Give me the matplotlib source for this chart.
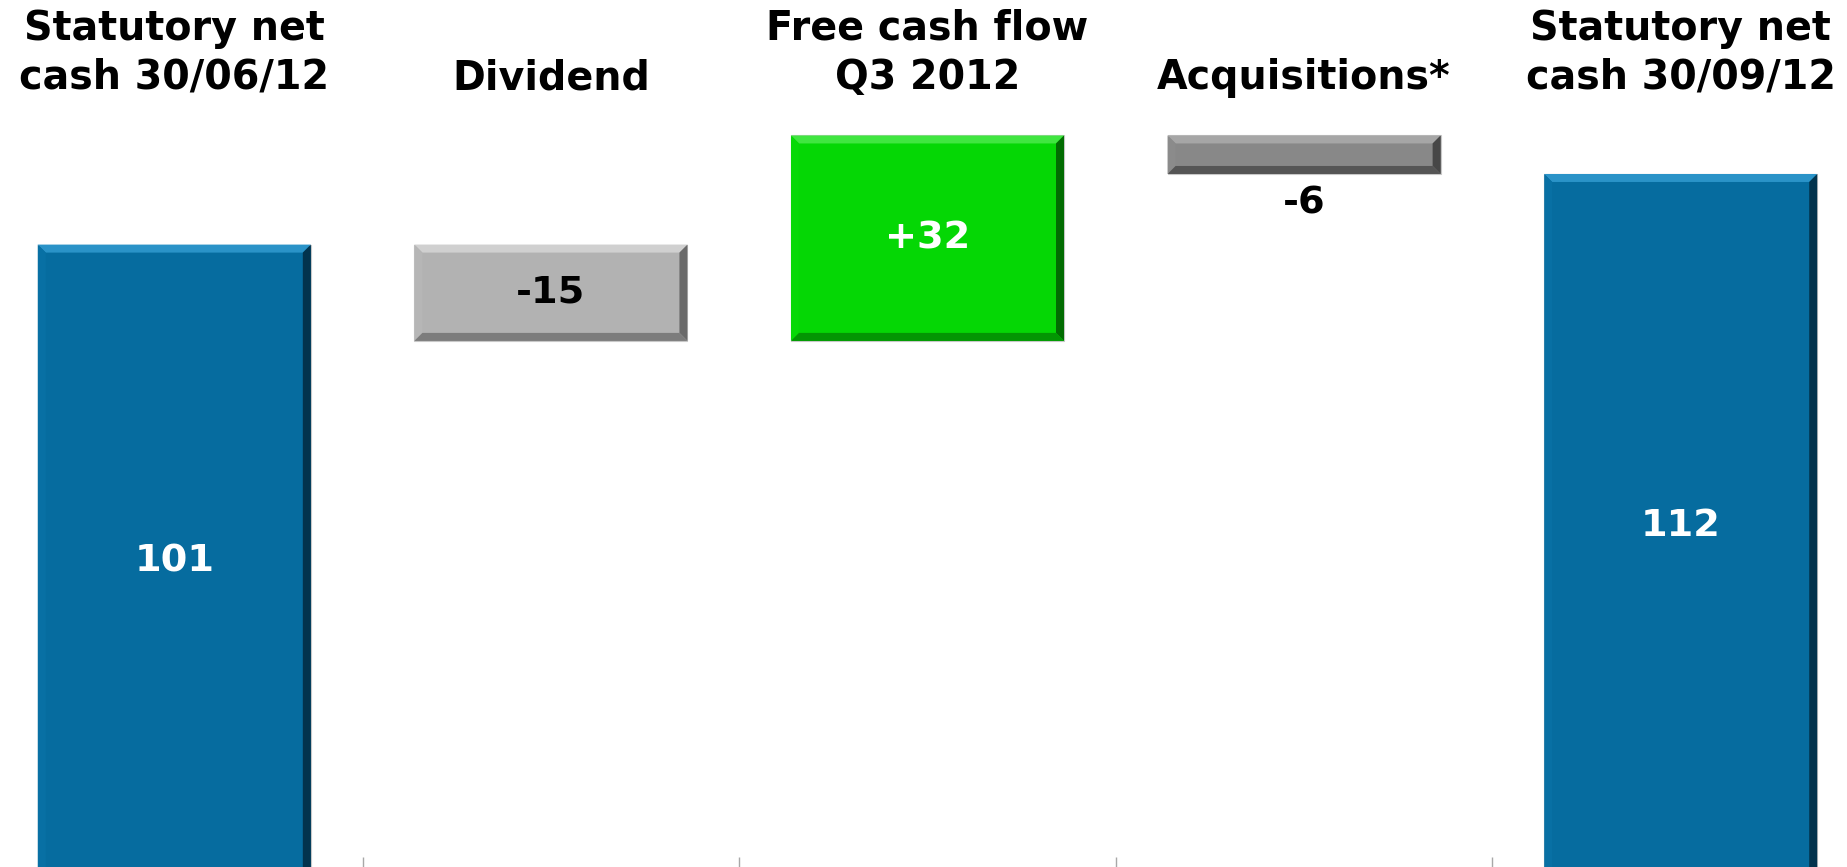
import matplotlib
matplotlib.use('Agg')
import matplotlib.pyplot as plt
from matplotlib.patches import Polygon

categories = ['Statutory net\ncash 30/06/12', 'Dividend', 'Free cash flow\nQ3 2012',
              'Acquisitions*', 'Statutory net\ncash 30/09/12']
values = [101, -15, 32, -6, 112]
kinds = ['total', 'delta', 'delta', 'delta', 'total']
value_labels = ['101', '-15', '+32', '-6', '112']

# face, top bevel, left bevel, right bevel, bottom bevel
palette = {
    'blue':  ('#066c9f', '#2a93c8', '#0870a4', '#02334d', '#04557e'),
    'lgray': ('#b2b2b2', '#d0d0d0', '#b6b6b6', '#6a6a6a', '#7c7c7c'),
    'green': ('#05d705', '#40e640', '#07d907', '#026c02', '#039603'),
    'dgray': ('#888888', '#a6a6a6', '#8b8b8b', '#474747', '#555555'),
}
bar_colors = ['blue', 'lgray', 'green', 'dgray', 'blue']
text_colors = ['white', 'black', 'white', 'black', 'white']
label_pos = ['in', 'in', 'in', 'below', 'in']

W, H = 1847, 867
fig = plt.figure(figsize=(W / 100, H / 100), dpi=100)
# axes runs slightly past the figure edges, like the cropped slide
ax = fig.add_axes([-14 / W, 0, 1883 / W, 1])
ymin, ymax = 4.05, 139.1
floor = 2.2   # bottom of the slide's plot area, a little below the crop
ax.set_xlim(-0.5, 4.5)
ax.set_ylim(ymin, ymax)

px_x = 1883 / 5.0      # pixels per category
px_y = 867 / (ymax - ymin)
bw = 0.725
bx = 8 / px_x
by = 8 / px_y

running = 0
for i, (v, k) in enumerate(zip(values, kinds)):
    if k == 'total':
        y0, y1 = 0, v
        running = v
    else:
        y0, y1 = sorted([running, running + v])
        running += v
    face, top, left, right, bottom = palette[bar_colors[i]]
    x0, x1 = i - bw / 2, i + bw / 2
    ax.bar(i, y1 - y0, bottom=y0, width=bw, color=face,
           edgecolor='#c8c8c8', linewidth=0.8, zorder=2)
    bev = [
        ([(x0, y1), (x1, y1), (x1 - bx, y1 - by), (x0 + bx, y1 - by)], top),
        ([(x0, y0), (x0, y1), (x0 + bx, y1 - by), (x0 + bx, y0 + by)], left),
        ([(x1, y0), (x1, y1), (x1 - bx, y1 - by), (x1 - bx, y0 + by)], right),
        ([(x0, y0), (x1, y0), (x1 - bx, y0 + by), (x0 + bx, y0 + by)], bottom),
    ]
    for pts, c in bev:
        ax.add_patch(Polygon(pts, closed=True, facecolor=c, edgecolor='none', zorder=3))

    if label_pos[i] == 'in':
        ax.text(i, (max(y0, floor) + y1) / 2, value_labels[i], ha='center', va='center',
                fontsize=27.5, fontweight='bold', color=text_colors[i], zorder=4)
    else:
        ax.annotate(value_labels[i], (i, y0), xytext=(0, -21), textcoords='offset points',
                    ha='center', va='center', fontsize=27.5, fontweight='bold',
                    color=text_colors[i], zorder=4)

    ax.text(i, 1 - 98 / H, categories[i], transform=ax.get_xaxis_transform(),
            ha='center', va='bottom', fontsize=28.5, fontweight='bold',
            color='black', linespacing=1.3)

for s in ax.spines.values():
    s.set_visible(False)
ax.set_yticks([])
ax.set_xticks([])
ax.set_xticks([0.5, 1.5, 2.5, 3.5], minor=True)
ax.tick_params(axis='x', which='minor', direction='in', length=7.5,
               width=1, color='#a8a8a8', labelbottom=False)

fig.savefig('out.png', dpi=100)
